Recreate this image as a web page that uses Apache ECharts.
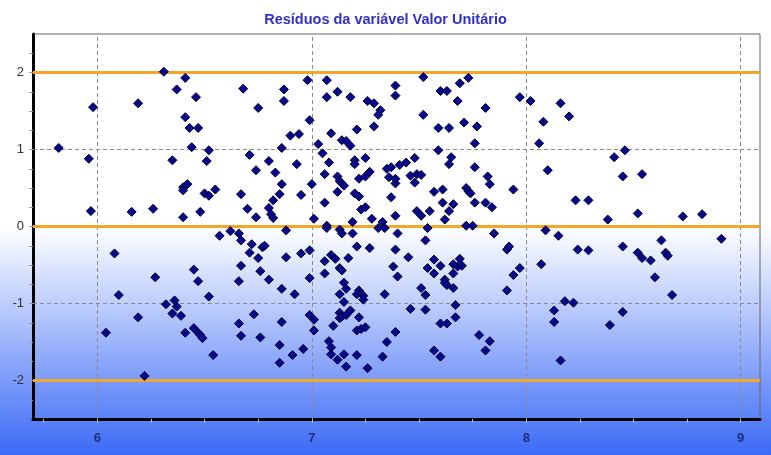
<!DOCTYPE html>
<html>
<head>
<meta charset="utf-8">
<script src="https://cdn.jsdelivr.net/npm/echarts@6/dist/echarts.min.js"></script>
<style>
  html, body { margin: 0; padding: 0; background: #fff; }
  #grafico { width: 771px; height: 455px; }
</style>
</head>
<body>
<div id="grafico"></div>
<script>
var titulo = 'Resíduos da variável Valor Unitário';

// valor previsto (eixo x) e resíduo padronizado (eixo y), ponto a ponto
var previsto = [
  6.31, 6.41, 6.37, 6.46, 5.98, 6.19, 6.41, 6.43, 6.47, 5.82, 6.44, 6.52, 5.96, 6.35, 6.51, 6.42, 6.40, 6.40, 6.55, 6.50, 6.52, 5.97, 6.16, 6.26, 6.40, 6.48,
  6.68, 6.87, 6.87, 6.75, 6.98, 7.07, 7.07, 7.12, 7.18, 7.39, 7.39, 7.26, 7.29, 7.32, 7.31, 6.99, 7.29, 7.21, 7.09, 6.90, 6.94, 7.14, 7.16, 7.18, 7.03, 6.86,
  7.05, 6.71, 6.80, 6.93, 7.08, 7.20, 7.20, 7.25, 6.74, 6.83, 7.06, 7.12, 7.13, 7.14, 7.15, 7.22, 7.25, 7.27, 7.35, 7.37, 7.41, 7.36, 7.39, 6.86, 7.00,
  6.67, 6.85, 6.95, 7.12, 7.20, 7.22, 7.37, 6.70, 6.82, 6.80, 6.81, 6.82, 6.74, 7.06, 7.23, 7.25, 7.01, 7.19, 7.28, 7.39, 7.07, 7.33,
  7.52, 7.60, 7.63, 7.69, 7.73, 7.68, 7.52, 7.81, 7.97, 8.02, 8.16, 8.20, 8.08, 7.59, 7.64, 7.71, 7.77, 7.76, 8.06, 7.59, 7.65, 7.64, 7.48, 7.44,
  7.39, 7.46, 7.48, 7.49, 7.51, 7.76, 7.82, 7.83, 7.94, 8.10, 8.23, 7.57, 7.61, 7.72, 7.73, 7.74, 7.61, 7.66, 7.76, 7.81, 7.84, 7.64, 7.49, 7.51, 7.55, 7.62,
  8.29, 8.41, 8.46, 8.45, 8.54, 8.38, 8.52, 8.73, 8.82,
  6.57, 6.08, 6.27, 6.45, 6.47, 6.10, 6.52, 6.32, 6.36, 6.37, 6.35, 6.39, 6.19, 6.04, 6.41, 6.45, 6.47, 6.48, 6.49, 6.54, 6.22,
  6.62, 6.66, 6.67, 6.72, 6.77, 6.78, 6.71, 6.75, 6.88, 6.88, 6.95, 6.99, 6.67, 6.76, 6.66, 6.80, 6.86, 6.92, 6.99, 7.07, 7.13, 7.14, 7.19, 7.21,
  7.27, 7.31, 7.34, 7.40, 7.39, 7.09, 7.11, 7.06, 7.17, 7.13, 7.14, 7.06, 7.38, 7.40, 7.15, 7.16, 7.13, 7.15, 7.21, 7.22, 7.23, 7.24, 7.24, 7.34,
  6.73, 6.66, 6.86, 6.99, 7.01, 7.01, 7.13, 7.13, 7.14, 7.16, 7.18, 7.22, 7.10, 7.21, 7.23, 7.25, 7.39, 6.67, 6.76, 6.85, 6.96, 6.91, 6.85,
  7.08, 7.09, 7.09, 7.12, 7.15, 7.16, 7.21, 7.26, 7.33, 7.35,
  7.54, 7.72, 7.75, 7.53, 7.85, 8.09, 8.15, 8.24, 7.45, 7.57, 7.54, 7.57, 7.60, 7.66, 7.69, 7.68, 7.70, 7.66, 7.62, 7.62, 7.63, 7.66, 7.91, 7.92,
  7.97, 7.94, 8.07, 7.91, 7.51, 7.53, 7.46, 7.53, 7.67, 7.67, 7.60, 7.63, 7.78, 7.83, 7.81, 7.57, 7.60, 8.18, 8.22, 8.13, 8.13, 8.16,
  8.29, 8.45, 8.52, 8.54, 8.58, 8.63, 8.65, 8.66, 8.60, 8.68, 8.91, 8.45, 8.39
];
var residuo = [
  2.01, 1.93, 1.78, 1.68, 1.55, 1.60, 1.42, 1.28, 1.28, 1.02, 1.03, 0.99, 0.88, 0.86, 0.85, 0.55, 0.51, 0.47, 0.48, 0.43, 0.40, 0.20, 0.19, 0.23, 0.12, 0.19,
  1.79, 1.78, 1.63, 1.54, 1.90, 1.90, 1.68, 1.75, 1.68, 1.83, 1.70, 1.63, 1.60, 1.51, 1.45, 1.38, 1.30, 1.26, 1.21, 1.18, 1.20, 1.12, 1.11, 1.05, 1.07, 1.02,
  0.95, 0.93, 0.85, 0.81, 0.83, 0.86, 0.81, 0.89, 0.73, 0.70, 0.68, 0.65, 0.59, 0.56, 0.53, 0.62, 0.65, 0.71, 0.75, 0.77, 0.80, 0.64, 0.56, 0.55, 0.55,
  0.42, 0.42, 0.41, 0.45, 0.43, 0.39, 0.38, 0.23, 0.34, 0.24, 0.16, 0.11, 0.12, 0.31, 0.22, 0.25, 0.10, 0.06, 0.10, 0.14, 0.01, 0.06,
  1.94, 1.76, 1.76, 1.86, 1.93, 1.63, 1.45, 1.54, 1.68, 1.63, 1.60, 1.43, 1.36, 1.28, 1.28, 1.35, 1.30, 1.08, 1.08, 0.99, 0.90, 0.81, 0.89, 0.83,
  0.62, 0.66, 0.57, 0.68, 0.67, 0.77, 0.65, 0.55, 0.48, 0.73, 0.34, 0.45, 0.48, 0.50, 0.46, 0.43, 0.31, 0.29, 0.31, 0.31, 0.25, 0.20, 0.20, 0.14, 0.20, 0.09,
  0.34, 0.90, 0.99, 0.65, 0.68, 0.09, 0.17, 0.13, 0.16,
  -0.12, -0.35, -0.66, -0.56, -0.71, -0.89, -0.91, -1.01, -0.96, -1.04, -1.13, -1.16, -1.18, -1.38, -1.38, -1.32, -1.38, -1.41, -1.45, -1.67, -1.94,
  -0.06, -0.09, -0.18, -0.23, -0.27, -0.25, -0.34, -0.41, -0.05, -0.40, -0.35, -0.31, -0.51, -0.58, -0.71, -0.69, -0.81, -0.88, -0.67, -0.02, -0.04, -0.09, -0.09, -0.26,
  -0.28, -0.02, -0.02, -0.09, -0.30, -0.37, -0.42, -0.45, -0.41, -0.54, -0.57, -0.61, -0.52, -0.65, -0.73, -0.81, -0.88, -0.98, -0.88, -0.83, -0.87, -0.90, -0.95, -0.88,
  -1.14, -1.26, -1.24, -1.15, -1.21, -1.35, -1.12, -1.19, -1.17, -1.15, -1.09, -1.18, -1.29, -1.35, -1.33, -1.31, -1.37, -1.42, -1.44, -1.54, -1.59, -1.67, -1.77,
  -1.49, -1.57, -1.66, -1.73, -1.66, -1.82, -1.67, -1.84, -1.69, -1.50,
  -0.02, 0.01, 0.01, -0.18, -0.09, -0.05, -0.12, -0.30, -0.40, -0.43, -0.54, -0.61, -0.51, -0.49, -0.42, -0.52, -0.51, -0.61, -0.69, -0.73, -0.76, -0.80, -0.30, -0.26,
  -0.54, -0.63, -0.49, -0.83, -0.80, -0.89, -1.07, -1.08, -1.02, -1.18, -1.26, -1.26, -1.41, -1.49, -1.61, -1.61, -1.69, -0.97, -0.99, -1.09, -1.24, -1.74,
  -0.31, -0.26, -0.34, -0.41, -0.44, -0.18, -0.34, -0.38, -0.66, -0.89, -0.16, -1.11, -1.28
];
var rotulosX = [6, 7, 8, 9];
var rotulosY = [-2, -1, 0, 1, 2];
var limitesFaixa = [2, 0, -2];
var gradeX = [6, 7, 8, 9];
var gradeY = [-1, 1];

(function () {
    var myChart = echarts.init(document.getElementById('grafico'));

    var pontos = previsto.map(function (v, i) { return [v, residuo[i]]; });

    // marcas menores de 0,25 em 0,25
    var ticksX = [];
    for (var a = 5.75; a <= 9.05; a += 0.25) ticksX.push(Math.round(a * 100) / 100);
    var ticksY = [];
    for (var b = -2.25; b <= 2.3; b += 0.25) ticksY.push(Math.round(b * 100) / 100);

    var linhas = [];
    gradeX.forEach(function (v) {
        linhas.push({ xAxis: v, lineStyle: { color: '#8a8a8a', width: 1, type: [4, 3] } });
    });
    gradeY.forEach(function (v) {
        linhas.push({ yAxis: v, lineStyle: { color: '#8a8a8a', width: 1, type: [4, 3] } });
    });
    limitesFaixa.forEach(function (v) {
        linhas.push({ yAxis: v, lineStyle: { color: '#f2a62a', width: 3, type: 'solid' } });
    });

    var option = {
        animation: false,
        backgroundColor: {
            type: 'linear', x: 0, y: 0, x2: 0, y2: 1,
            colorStops: [
                { offset: 0, color: '#ffffff' },
                { offset: 0.5, color: '#ffffff' },
                { offset: 1, color: '#3b6af6' }
            ]
        },
        title: {
            text: titulo,
            left: 'center',
            top: 7,
            textStyle: {
                color: '#3030c8',
                fontSize: 14.5,
                fontWeight: 'bold',
                fontFamily: 'Liberation Sans'
            }
        },
        grid: {
            left: 33,
            right: 11,
            top: 34,
            bottom: 36,
            show: true,
            borderColor: '#666',
            borderWidth: 1,
            backgroundColor: 'transparent'
        },
        xAxis: {
            type: 'value',
            min: 5.7,
            max: 9.09,
            axisLine: { onZero: false, lineStyle: { color: '#000', width: 3 } },
            axisTick: { show: true, length: 4, customValues: ticksX, lineStyle: { color: '#b0bce8' } },
            axisLabel: {
                customValues: rotulosX,
                color: '#1e2f7c',
                fontSize: 13,
                fontWeight: 'bold',
                fontFamily: 'Liberation Sans',
                margin: 13
            },
            splitLine: { show: false }
        },
        yAxis: {
            type: 'value',
            min: -2.5,
            max: 2.5,
            axisLine: { onZero: false, lineStyle: { color: '#000', width: 3 } },
            axisTick: { show: true, length: 4, customValues: ticksY, lineStyle: { color: '#999' } },
            axisLabel: {
                customValues: rotulosY,
                color: '#333',
                fontSize: 13,
                fontFamily: 'Liberation Sans',
                margin: 9
            },
            splitLine: { show: false }
        },
        series: [{
            type: 'scatter',
            data: pontos,
            symbol: 'diamond',
            symbolSize: 9,
            z: 5,
            itemStyle: {
                color: '#08088f',
                borderColor: '#00002e',
                borderWidth: 1,
                opacity: 1
            },
            markLine: {
                silent: true,
                symbol: 'none',
                label: { show: false },
                z: 1,
                data: linhas
            }
        }]
    };
    myChart.setOption(option);
    window.addEventListener("resize", function () {
        myChart.resize();
    });
})();
</script>
</body>
</html>
